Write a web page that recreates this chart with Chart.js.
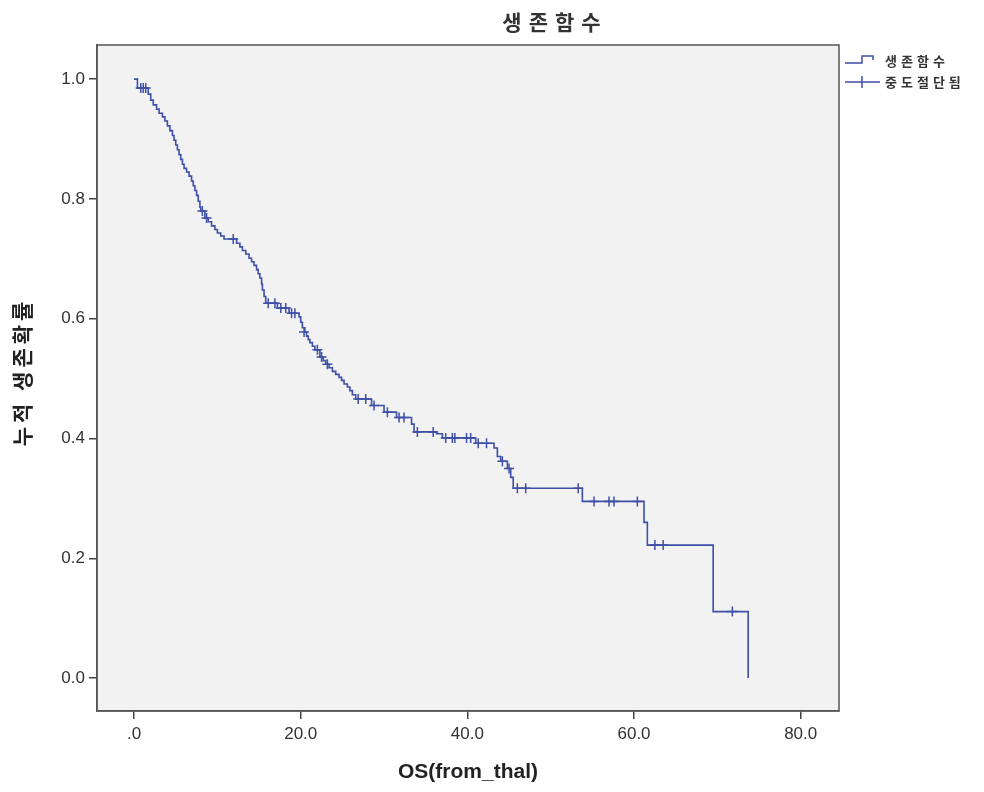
<!DOCTYPE html>
<html>
<head>
<meta charset="utf-8">
<script src="https://cdn.jsdelivr.net/npm/chart.js@4.4.1/dist/chart.umd.min.js"></script>
<style>
  body { margin: 0; background: #fff; }
  #wrap { width: 984px; height: 792px; }
</style>
</head>
<body>
<div id="wrap"><canvas id="km" width="984" height="792"></canvas></div>
<script>
// 생존함수 - event times and survival after each step
const eventTimes = [0, 0.4, 1.7, 2.0, 2.3, 2.7, 3.0, 3.4, 3.7, 4.0, 4.3, 4.6, 4.8, 5.0, 5.2, 5.4, 5.6, 5.8, 6.0,
  6.3, 6.6, 6.9, 7.1, 7.3, 7.5, 7.7, 7.9, 8.0, 8.5, 8.9, 9.3, 9.7, 10.0, 10.4, 10.8,
  12.3, 12.7, 13.0, 13.4, 13.8, 14.1, 14.4, 14.7, 14.9, 15.1, 15.3, 15.4, 15.6, 15.8,
  17.2, 18.6, 19.8, 20.0, 20.2, 20.5, 20.7, 20.9, 21.1, 21.4, 21.7, 22.3, 22.7, 23.0, 23.4, 23.8, 24.2, 24.6,
  24.9, 25.2, 25.6, 25.9, 26.2, 26.6, 28.5, 30.0, 31.5, 33.3, 33.6, 36.3, 37.0, 41.0, 43.2, 43.6, 44.0, 44.8,
  45.2, 45.5, 53.8, 61.2, 61.6, 69.5, 73.7]
const survival = [1.0, 0.985, 0.975, 0.965, 0.957, 0.95, 0.943, 0.937, 0.93, 0.922, 0.914, 0.906, 0.898, 0.89, 0.882, 0.874, 0.866, 0.858, 0.851,
  0.845, 0.838, 0.83, 0.822, 0.814, 0.806, 0.796, 0.786, 0.78, 0.768, 0.762, 0.755, 0.749, 0.743, 0.738, 0.733,
  0.726, 0.72, 0.714, 0.708, 0.701, 0.695, 0.689, 0.682, 0.675, 0.668, 0.658, 0.648, 0.637, 0.626,
  0.618, 0.609, 0.603, 0.594, 0.585, 0.578, 0.571, 0.565, 0.56, 0.554, 0.548, 0.536, 0.53, 0.524, 0.518, 0.512, 0.507, 0.502,
  0.497, 0.491, 0.486, 0.48, 0.473, 0.466, 0.455, 0.444, 0.435, 0.424, 0.411, 0.408, 0.401, 0.392, 0.384, 0.37, 0.362, 0.35,
  0.335, 0.317, 0.295, 0.26, 0.222, 0.111, 0]

// 중도절단됨 - censored times and the survival level they sit on
const censorTimes = [0.8, 1.1, 1.4, 8.2, 8.7, 11.9, 16.1, 16.9, 17.6, 18.2, 18.9, 19.3, 20.4, 22.0, 22.5, 23.2,
  26.9, 27.8, 28.8, 30.4, 31.8, 32.4, 34.0, 35.9, 37.4, 38.2, 38.5, 39.9, 40.4, 41.3, 42.3, 44.2, 45.0,
  46.0, 47.0, 53.3, 55.2, 57.0, 57.6, 60.4, 62.5, 63.5, 71.8]
const censorSurv = [0.985, 0.985, 0.985, 0.78, 0.768, 0.733, 0.626, 0.626, 0.618, 0.618, 0.609, 0.609, 0.578, 0.548, 0.536, 0.524,
  0.466, 0.466, 0.455, 0.444, 0.435, 0.435, 0.411, 0.411, 0.401, 0.401, 0.401, 0.401, 0.401, 0.392, 0.392, 0.362, 0.35,
  0.317, 0.317, 0.317, 0.295, 0.295, 0.295, 0.295, 0.222, 0.222, 0.111]

const xTicks = [0, 20, 40, 60, 80]
const yTicks = [0, 0.2, 0.4, 0.6, 0.8, 1.0]

const blue = '#3d4fa6'
const krFont = '"Noto Sans CJK KR", "Noto Sans", sans-serif'
const latFont = '"Liberation Sans", Arial, sans-serif'

const frame = {
  id: 'frame',
  beforeDraw(chart) {
    const a = chart.chartArea
    const c = chart.ctx
    c.save()
    c.fillStyle = '#f2f2f2'
    c.fillRect(a.left, a.top, a.right - a.left, a.bottom - a.top)
    c.restore()
  },
  afterDraw(chart) {
    const a = chart.chartArea
    const c = chart.ctx
    c.save()
    c.strokeStyle = '#555'
    c.lineWidth = 1.5
    c.strokeRect(a.left, a.top, a.right - a.left, a.bottom - a.top)

    // title
    c.fillStyle = '#333'
    c.font = 'bold 21px ' + krFont
    c.letterSpacing = '7px'
    c.textAlign = 'center'
    c.textBaseline = 'middle'
    c.fillText('생존함수', 555, 22)

    // y axis title
    c.save()
    c.translate(22, 372)
    c.rotate(-Math.PI / 2)
    c.fillStyle = '#222'
    c.font = 'bold 21px ' + krFont
    c.letterSpacing = '4px'
    c.fillText('누적 생존확률', 0, 0)
    c.restore()

    // legend
    c.font = 'bold 13px ' + krFont
    c.letterSpacing = '4px'
    c.textAlign = 'left'
    c.fillText('생존함수', 885, 61)
    c.fillText('중도절단됨', 885, 82)
    c.strokeStyle = blue
    c.lineWidth = 1.5
    c.beginPath()
    c.moveTo(845, 63); c.lineTo(862, 63); c.lineTo(862, 56); c.lineTo(873, 56); c.lineTo(873, 60)
    c.moveTo(845, 82); c.lineTo(880, 82)
    c.moveTo(862, 76); c.lineTo(862, 88)
    c.stroke()
    c.restore()
  }
}

new Chart(document.getElementById('km'), {
  type: 'scatter',
  data: {
    datasets: [{
      label: '생존함수',
      data: eventTimes.map((t, i) => ({x: t, y: survival[i]})),
      showLine: true,
      stepped: true,
      borderColor: blue,
      borderWidth: 1.6,
      pointRadius: 0
    }, {
      label: '중도절단됨',
      data: censorTimes.map((t, i) => ({x: t, y: censorSurv[i]})),
      pointStyle: 'cross',
      pointRadius: 5,
      borderColor: blue,
      borderWidth: 1.5
    }]
  },
  options: {
    responsive: false,
    animation: false,
    layout: {padding: {top: 45, right: 145, left: 0, bottom: 0}},
    plugins: {legend: {display: false}, title: {display: false}, tooltip: {enabled: false}},
    scales: {
      x: {
        type: 'linear',
        min: -4.45,
        max: 84.6,
        afterFit: s => { s.height = 81 },
        afterBuildTicks: s => { s.ticks = xTicks.map(v => ({value: v})) },
        grid: {drawOnChartArea: false, drawTicks: true, tickLength: 8, color: '#444', lineWidth: 1.5},
        border: {display: true, color: '#555', width: 1.5},
        ticks: {
          color: '#333', padding: 5,
          font: {family: latFont, size: 17},
          callback: v => v === 0 ? '.0' : v.toFixed(1)
        },
        title: {
          display: true, text: 'OS(from_thal)', color: '#222',
          font: {family: latFont, size: 21, weight: 'bold'},
          padding: {top: 0, bottom: 7}
        }
      },
      y: {
        type: 'linear',
        min: -0.055,
        max: 1.057,
        afterFit: s => { s.width = 97 },
        afterBuildTicks: s => { s.ticks = yTicks.map(v => ({value: v})) },
        grid: {drawOnChartArea: false, drawTicks: true, tickLength: 8, color: '#444', lineWidth: 1.5},
        border: {display: true, color: '#555', width: 1.5},
        ticks: {
          color: '#333', padding: 4,
          font: {family: latFont, size: 17},
          callback: v => v.toFixed(1)
        }
      }
    }
  },
  plugins: [frame]
})
</script>
</body>
</html>
